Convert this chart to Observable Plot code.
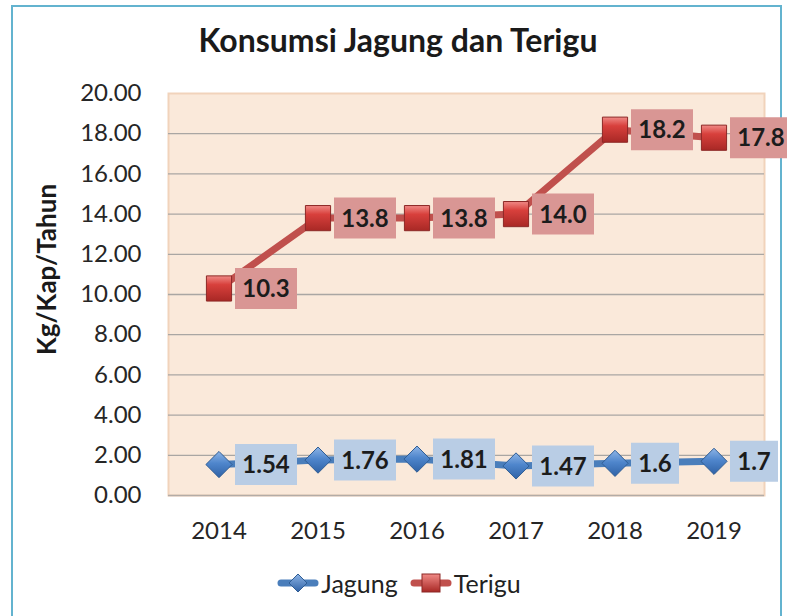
<!DOCTYPE html>
<html>
<head>
<meta charset="utf-8">
<script src="https://cdn.jsdelivr.net/npm/d3@7"></script>
<script src="https://cdn.jsdelivr.net/npm/@observablehq/plot@0.6"></script>
<style>
  html, body { margin: 0; padding: 0; background: #fff; }
  #page { position: relative; width: 787px; height: 616px; overflow: hidden; font-family: Lato, "Open Sans", sans-serif; }
  #border { position: absolute; left: 11px; top: 5px; width: 771px; height: 660px; border: 2px solid #63b3cf; box-sizing: border-box; }
  #title { position: absolute; left: 12px; width: 772px; top: 20px; text-align: center; font-weight: bold; font-size: 32px; color: #1a1a1a; }
  #chart { position: absolute; left: 0; top: 0; }
  #legend { position: absolute; left: 0; width: 798px; top: 568px; display: flex; justify-content: center; align-items: center; font-size: 25px; color: #222; }
  .item { display: flex; align-items: center; margin: 0 6px; }
  .item svg { display: block; margin-right: 0px; }
</style>
</head>
<body>
<div id="page">
  <div id="border"></div>
  <div id="chart"></div>
  <div id="title"></div>
  <div id="legend"></div>
</div>
<script>
// ---- data ----
const chartTitle = "Konsumsi Jagung dan Terigu";
const yLabel = "Kg/Kap/Tahun";
const years = ["2014", "2015", "2016", "2017", "2018", "2019"];
const seriesNames = ["Jagung", "Terigu"];
const jagung = [1.54, 1.76, 1.81, 1.47, 1.6, 1.7];
const terigu = [10.3, 13.8, 13.8, 14.0, 18.2, 17.8];
const jagungLabels = ["1.54", "1.76", "1.81", "1.47", "1.6", "1.7"];
const teriguLabels = ["10.3", "13.8", "13.8", "14.0", "18.2", "17.8"];
const yTicks = [0, 2, 4, 6, 8, 10, 12, 14, 16, 18, 20];

// ---- styles ----
const colors = {
  Jagung: { line: "#4a7ebb", box: "#b9cde5", marker: "url(#gBlue)", mstroke: "#2f5d94" },
  Terigu: { line: "#c0504d", box: "#d99694", marker: "url(#gRed)", mstroke: "#8c2826" }
};

const rows = [];
years.forEach((y, i) => {
  rows.push({ series: "Jagung", year: y, value: jagung[i], label: jagungLabels[i] });
  rows.push({ series: "Terigu", year: y, value: terigu[i], label: teriguLabels[i] });
});
const bySeries = s => rows.filter(d => d.series === s);

document.getElementById("title").textContent = chartTitle;

function rectSymbol(w, h) {
  return { draw(ctx) { ctx.rect(-w / 2, -h / 2, w, h); } };
}

const labelMarks = rows.flatMap(d => {
  const w = d.label.length * 14 + 6;
  const c = colors[d.series];
  return [
    Plot.dot([d], { x: "year", y: "value", symbol: rectSymbol(w, 41), r: 1, fill: c.box, stroke: "none", dx: 16 + w / 2 }),
    Plot.text([d], { x: "year", y: "value", text: "label", dx: 16 + w / 2, dy: 1, fontWeight: "bold", fontSize: 24, fill: "#1c1c1c", textAnchor: "middle" })
  ];
});

const svg = Plot.plot({
  width: 787,
  height: 616,
  marginTop: 93,
  marginBottom: 121,
  marginLeft: 168,
  marginRight: 23,
  style: { fontFamily: "Lato, 'Open Sans', sans-serif", fontSize: "24px", color: "#262626", background: "transparent" },
  x: { type: "band", domain: years, padding: 0, tickSize: 0, tickPadding: 26, label: null },
  y: { domain: [0, 20], ticks: yTicks, tickFormat: d3.format(".2f"), tickSize: 0, tickPadding: 27, label: null },
  marks: [
    Plot.frame({ fill: "#fae9da", stroke: "#f1d3bb", strokeWidth: 2 }),
    Plot.ruleY(yTicks.filter(t => t > 0 && t < 20), { stroke: "#a9a6a3", strokeWidth: 1.3 }),
    Plot.ruleY([0], { stroke: "#b3aca6", strokeWidth: 1.5 }),
    Plot.line(bySeries("Jagung"), { x: "year", y: "value", stroke: colors.Jagung.line, strokeWidth: 7 }),
    Plot.line(bySeries("Terigu"), { x: "year", y: "value", stroke: colors.Terigu.line, strokeWidth: 7 }),
    Plot.dot(bySeries("Jagung"), { x: "year", y: "value", symbol: "diamond2", r: 11.8, fill: colors.Jagung.marker, stroke: colors.Jagung.mstroke, strokeWidth: 1, ariaLabel: "markers" }),
    Plot.dot(bySeries("Terigu"), { x: "year", y: "value", symbol: "square", r: 14.2, fill: colors.Terigu.marker, stroke: colors.Terigu.mstroke, strokeWidth: 1, ariaLabel: "markers" }),
    ...labelMarks,
    Plot.text([yLabel], { frameAnchor: "left", text: d => d, textAnchor: "middle", rotate: -90, dx: -121, dy: -25, fontWeight: "bold", fontSize: 26, fill: "#1a1a1a" })
  ]
});

// gradients & shadow
const defs = d3.select(svg).insert("defs", ":first-child");
const gr = defs.append("linearGradient").attr("id", "gRed").attr("x1", 0).attr("y1", 0).attr("x2", 0).attr("y2", 1);
gr.append("stop").attr("offset", "0%").attr("stop-color", "#f08a86");
gr.append("stop").attr("offset", "35%").attr("stop-color", "#d8403c");
gr.append("stop").attr("offset", "100%").attr("stop-color", "#a82825");
const gb = defs.append("linearGradient").attr("id", "gBlue").attr("x1", 0).attr("y1", 0).attr("x2", 0).attr("y2", 1);
gb.append("stop").attr("offset", "0%").attr("stop-color", "#8db4e6");
gb.append("stop").attr("offset", "45%").attr("stop-color", "#4f86cc");
gb.append("stop").attr("offset", "100%").attr("stop-color", "#2f62a6");
const f = defs.append("filter").attr("id", "shadow").attr("x", "-50%").attr("y", "-50%").attr("width", "200%").attr("height", "200%");
f.append("feDropShadow").attr("dx", 1).attr("dy", 2).attr("stdDeviation", 1.5).attr("flood-color", "#000").attr("flood-opacity", 0.35);
d3.select(svg).selectAll('g[aria-label="markers"]').attr("filter", "url(#shadow)");

document.getElementById("chart").appendChild(svg);

// legend
const legend = document.getElementById("legend");
seriesNames.forEach(name => {
  const c = colors[name];
  const item = document.createElement("div");
  item.className = "item";
  const sym = name === "Jagung"
    ? `<path d="M21,2 L30,11 L21,20 L12,11 Z" fill="url(#lgBlue)" stroke="${c.mstroke}" stroke-width="1"/>`
    : `<rect x="12" y="2" width="18" height="18" fill="url(#lgRed)" stroke="${c.mstroke}" stroke-width="1"/>`;
  item.innerHTML = `<svg width="44" height="22" viewBox="0 0 44 22">
    <defs>
      <linearGradient id="lgBlue" x1="0" y1="0" x2="0" y2="1"><stop offset="0%" stop-color="#8db4e6"/><stop offset="100%" stop-color="#2f62a6"/></linearGradient>
      <linearGradient id="lgRed" x1="0" y1="0" x2="0" y2="1"><stop offset="0%" stop-color="#f08a86"/><stop offset="100%" stop-color="#a82825"/></linearGradient>
    </defs>
    <line x1="4" y1="11" x2="38" y2="11" stroke="${c.line}" stroke-width="7" stroke-linecap="round"/>
    ${sym}
  </svg><span>${name}</span>`;
  legend.appendChild(item);
});
</script>
</body>
</html>
